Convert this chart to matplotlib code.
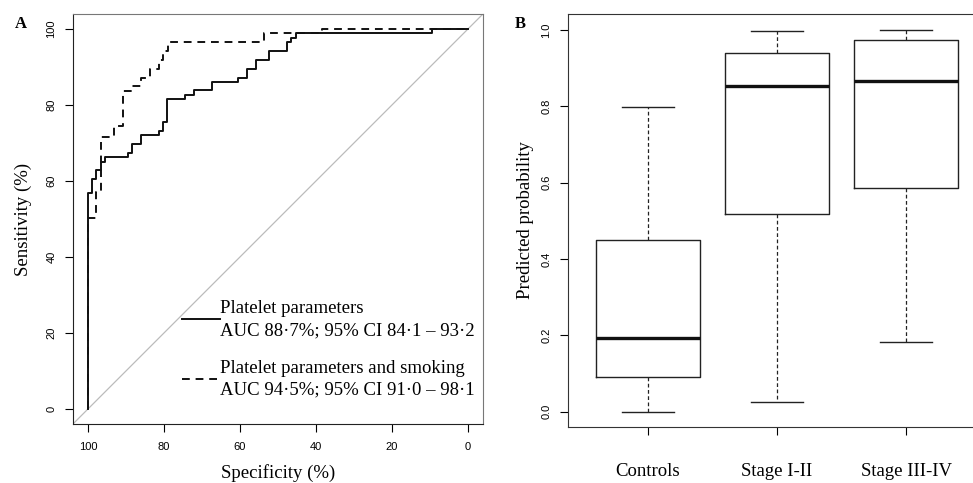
import matplotlib
matplotlib.use("Agg")
import matplotlib.pyplot as plt

plt.rcParams.update({"font.family": "serif", "font.serif": ["Liberation Serif", "DejaVu Serif"],
                     "font.sans-serif": ["Liberation Sans", "DejaVu Sans"]})

# ---- panel A: ROC curve vertices (specificity %, sensitivity %) ----
spec_plt = [100, 100, 98.9, 97.9, 96.7, 95.5, 89.5, 88.4, 86.0, 81.4, 80.3, 79.2, 74.4,
            72.1, 67.4, 60.5, 58.2, 55.8, 52.4, 47.6, 46.6, 45.3, 9.5, 0]
sens_plt = [0, 56.8, 60.5, 62.8, 64.9, 66.4, 67.5, 69.7, 72.1, 73.2, 75.5, 81.5, 82.6,
            83.9, 86.1, 87.1, 89.5, 91.8, 94.2, 96.6, 97.6, 98.9, 100, 100]
spec_smk = [100, 100, 97.9, 96.7, 93.2, 90.8, 88.4, 86.0, 83.7, 81.3, 80.3, 79.0, 53.7, 38.4, 0]
sens_smk = [0, 50.2, 57.0, 71.6, 74.5, 83.7, 85.0, 87.1, 89.5, 91.8, 94.2, 96.6, 98.9, 100, 100]
lab_plt = "Platelet parameters\nAUC 88\u00b77%; 95% CI 84\u00b71 \u2013 93\u00b72"
lab_smk = "Platelet parameters and smoking\nAUC 94\u00b75%; 95% CI 91\u00b70 \u2013 98\u00b71"
roc_ticks = [100, 80, 60, 40, 20, 0]

# ---- panel B: boxplot summaries ----
groups = ["Controls", "Stage I-II", "Stage III-IV"]
whislo = [0.0, 0.026, 0.184]
q1 = [0.090, 0.519, 0.585]
med = [0.193, 0.853, 0.866]
q3 = [0.450, 0.939, 0.975]
whishi = [0.798, 0.997, 1.0]
prob_ticks = [0.0, 0.2, 0.4, 0.6, 0.8, 1.0]

fig = plt.figure(figsize=(9.73, 4.83), dpi=100)
axA = fig.add_axes([0.0750, 0.1222, 0.4214, 0.8489])
axB = fig.add_axes([0.5838, 0.1159, 0.4296, 0.8551])

# ---------------- A ----------------
axA.plot([104, -4], [-4, 104], color="#bbbbbb", lw=0.9, zorder=1)
axA.plot(spec_plt, sens_plt, drawstyle="steps-post", color="#111111", lw=1.4,
         label=lab_plt, zorder=3)
axA.plot(spec_smk, sens_smk, drawstyle="steps-post", color="#111111", lw=1.4,
         ls=(0, (4, 3)), label=lab_smk, zorder=2)
axA.set_xlim(104, -4)
axA.set_ylim(-4, 104)
axA.set_xticks(roc_ticks)
axA.set_yticks(roc_ticks)
axA.set_xticklabels([str(t) for t in roc_ticks], family="sans-serif", fontsize=8)
axA.set_yticklabels([str(t) for t in roc_ticks], family="sans-serif", fontsize=8,
                    rotation=90, va="center")
axA.tick_params(axis="x", length=6, width=0.8, pad=7)
axA.tick_params(axis="y", length=6, width=0.8, pad=6)
axA.set_xlabel("Specificity (%)", fontsize=13.5, labelpad=9)
axA.set_ylabel("Sensitivity (%)", fontsize=13.5, labelpad=10)
for s in ["top", "right"]:
    axA.spines[s].set_color("#777777")
for s in ["left", "bottom"]:
    axA.spines[s].set_color("#222222")
leg = axA.legend(loc="upper left", bbox_to_anchor=(0.266, 0.303), frameon=False,
                 fontsize=13.5, handlelength=2.0, handletextpad=0.05,
                 labelspacing=1.1, borderaxespad=0, borderpad=0)
for t in leg.get_texts():
    t.set_linespacing(1.4)
fig.text(0.021, 0.950, "A", fontsize=12, fontweight="bold", ha="center", va="center")

# ---------------- B ----------------
stats = [dict(med=m, q1=a, q3=b, whislo=lo, whishi=hi, label=g)
         for g, lo, a, m, b, hi in zip(groups, whislo, q1, med, q3, whishi)]
axB.bxp(stats, positions=[1, 2, 3], widths=0.8, showfliers=False,
        boxprops=dict(color="#222222", lw=1.0),
        medianprops=dict(color="#111111", lw=2.4),
        whiskerprops=dict(color="#222222", lw=0.9, ls=(0, (3, 2))),
        capprops=dict(color="#222222", lw=1.0), capwidths=0.4)
axB.set_xlim(0.38, 3.62)
axB.set_ylim(-0.04, 1.042)
axB.set_yticks(prob_ticks)
axB.set_yticklabels([f"{t:.1f}" for t in prob_ticks], family="sans-serif", fontsize=8,
                    rotation=90, va="center")
axB.set_xticks([1, 2, 3])
axB.set_xticklabels(groups, fontsize=13.5)
axB.tick_params(axis="x", length=6, width=0.8, pad=20)
axB.tick_params(axis="y", length=6, width=0.8, pad=6)
axB.set_ylabel("Predicted probability", fontsize=13.5, labelpad=5)
for s in axB.spines.values():
    s.set_color("#333333")
fig.text(0.5345, 0.950, "B", fontsize=12, fontweight="bold", ha="center", va="center")

fig.savefig("out.png", dpi=100, facecolor="white")
